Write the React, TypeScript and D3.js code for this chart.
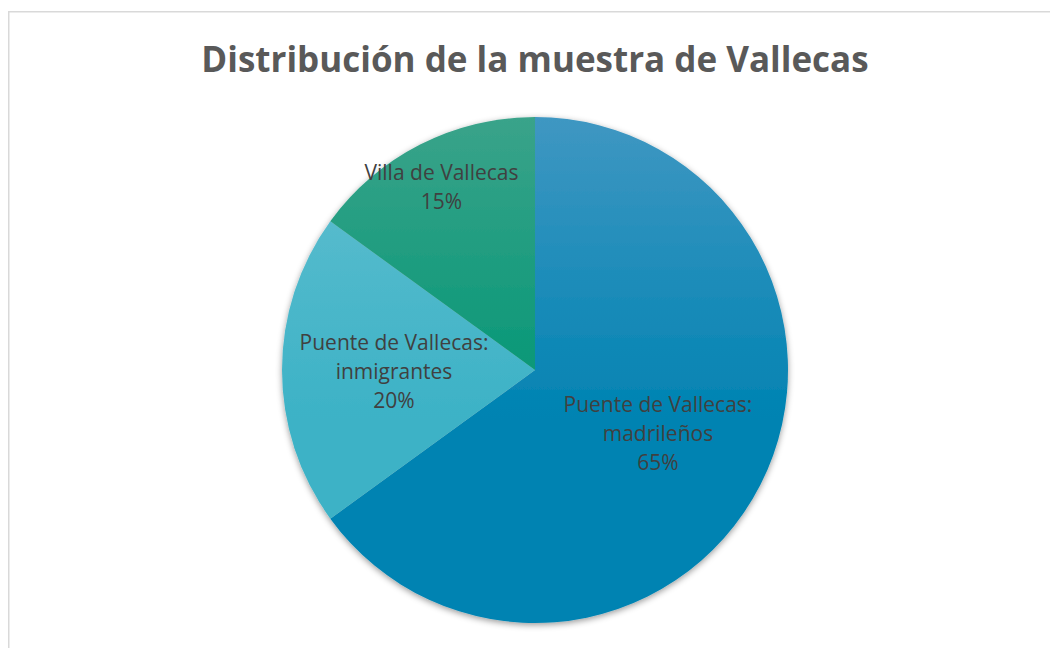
import React from "react";
import * as d3 from "d3";

const title = "Distribución de la muestra de Vallecas";
const categories = ["Puente de Vallecas: madrileños", "Puente de Vallecas: inmigrantes", "Villa de Vallecas"];
const labelLines = [["Puente de Vallecas:", "madrileños"], ["Puente de Vallecas:", "inmigrantes"], ["Villa de Vallecas"]];
const values = [65, 20, 15];
const colorsTop = ["#3f97c2", "#62bfd0", "#3aa38a"];
const colorsBottom = ["#0083b2", "#3cb2c6", "#009674"];

const W = 1050;
const H = 648;
const cx = 535;
const cy = 370;
const R = 253;
const labelRadius = [138, 141, 206];
const lineH = 29;

export default function App() {
  const pie = d3.pie<number>().sort(null).value((d) => d);
  const arcs = pie(values);
  const arc = d3.arc<d3.PieArcDatum<number>>().innerRadius(0).outerRadius(R);
  const total = d3.sum(values);

  return (
    <svg width={W} height={H} style={{ position: "absolute", left: 0, top: 0, display: "block" }}>
      <defs>
        {categories.map((c, i) => (
          <linearGradient key={i} id={`g${i}`} gradientUnits="userSpaceOnUse" x1={0} y1={-R} x2={0} y2={R}>
            <stop offset="0" stopColor={colorsTop[i]} />
            <stop offset="0.6" stopColor={colorsBottom[i]} />
            <stop offset="1" stopColor={colorsBottom[i]} />
          </linearGradient>
        ))}
        <filter id="sh" x="-10%" y="-10%" width="120%" height="120%">
          <feDropShadow dx="0" dy="2" stdDeviation="3" floodColor="#000" floodOpacity="0.4" />
        </filter>
      </defs>
      <rect x={0} y={0} width={W} height={H} fill="#fff" />
      <rect x={8.75} y={11.75} width={1100} height={700} fill="#fff" stroke="#d9d9d9" strokeWidth={1.5} />
      <text
        x={cx}
        y={72}
        textAnchor="middle"
        fontFamily="'Open Sans', sans-serif"
        fontWeight={700}
        fontSize={35}
        fill="#595959"
      >
        {title}
      </text>
      <g transform={`translate(${cx},${cy})`}>
        <g filter="url(#sh)">
          {arcs.map((a, i) => (
            <path key={i} d={arc(a) || ""} fill={`url(#g${i})`} />
          ))}
        </g>
        {arcs.map((a, i) => {
          const mid = (a.startAngle + a.endAngle) / 2;
          const lx = Math.sin(mid) * labelRadius[i];
          const ly = -Math.cos(mid) * labelRadius[i];
          const lines = [...labelLines[i], `${Math.round((values[i] / total) * 100)}%`];
          const y0 = ly - ((lines.length - 1) * lineH) / 2 + 8.5;
          return (
            <text
              key={i}
              textAnchor="middle"
              fontFamily="'Open Sans', sans-serif"
              fontSize={21}
              fill="#404040"
            >
              {lines.map((t, j) => (
                <tspan key={j} x={lx} y={y0 + j * lineH}>
                  {t}
                </tspan>
              ))}
            </text>
          );
        })}
      </g>
    </svg>
  );
}
